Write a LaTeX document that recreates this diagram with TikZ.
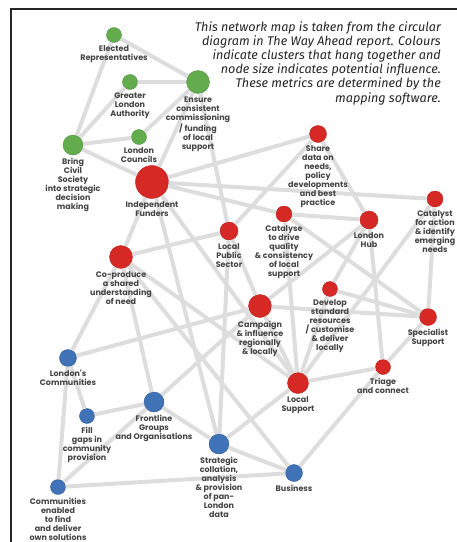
\documentclass[tikz,border=0pt]{standalone}
\usepackage{fontspec}
\newfontfamily\lblfont{Poppins}
\newfontfamily\notefont{Fira Sans}
\definecolor{cgreen}{RGB}{98,172,78}
\definecolor{cred}{RGB}{214,40,36}
\definecolor{cblue}{RGB}{64,114,184}
\definecolor{clink}{RGB}{221,221,221}
\definecolor{ctext}{RGB}{68,68,68}

\begin{document}
\begin{tikzpicture}
                \tikzset{x=1pt, y=-1pt}
                \tikzstyle{gnode}=[circle, inner sep=0pt, fill=cgreen, draw=cgreen!85!black, line width=0.4pt]
                \tikzstyle{rnode}=[circle, inner sep=0pt, fill=cred, draw=cred!85!black, line width=0.4pt]
                \tikzstyle{bnode}=[circle, inner sep=0pt, fill=cblue, draw=cblue!80!black, line width=0.4pt]
                \tikzstyle{lbl}=[anchor=north, inner sep=0pt, align=center, text=ctext, font=\lblfont\bfseries\fontsize{8}{9}\selectfont]
                \tikzstyle{note}=[anchor=north east, inner sep=0pt, align=right, text=black!85, font=\notefont\itshape\fontsize{12.6}{14.2}\selectfont]
                \tikzstyle{link}=[draw=clink, line width=4pt]

                \fill[white] (0,0) rectangle (457,542);
                \useasboundingbox (0,0) rectangle (457,542);
                \draw[line width=1.4pt, black!85] (457,9) -- (11,9) -- (11,542);

                \draw (441, 21)     node[note]                          (note)       {This network map is taken from the circular\\diagram in The Way Ahead report. Colours\\indicate clusters that hang together and\\node size indicates potential influence.\\These metrics are determined by the\\mapping software.};

                \draw (114, 35)     node[gnode, minimum size=15pt]      (elected)    {};
                \draw (130, 82)     node[gnode, minimum size=15pt]      (gla)        {};
                \draw (198, 82)     node[gnode, minimum size=23pt]      (ensure)     {};
                \draw (139, 137)    node[gnode, minimum size=15pt]      (councils)   {};
                \draw (73, 145)     node[gnode, minimum size=20pt]      (civil)      {};

                \draw (152, 182)    node[rnode, minimum size=33pt]      (funders)    {};
                \draw (318, 134)    node[rnode, minimum size=17pt]      (share)      {};
                \draw (435, 199)    node[rnode, minimum size=16pt]      (catalyst)   {};
                \draw (229, 231)    node[rnode, minimum size=18pt]      (lps)        {};
                \draw (284, 214)    node[rnode, minimum size=16pt]      (catalyse)   {};
                \draw (369, 220)    node[rnode, minimum size=18pt]      (hub)        {};
                \draw (121, 257)    node[rnode, minimum size=23pt]      (coproduce)  {};
                \draw (330, 289)    node[rnode, minimum size=15pt]      (develop)    {};
                \draw (260, 306)    node[rnode, minimum size=23pt]      (campaign)   {};
                \draw (428, 317)    node[rnode, minimum size=17pt]      (specialist) {};
                \draw (383, 367)    node[rnode, minimum size=15pt]      (triage)     {};
                \draw (298, 383)    node[rnode, minimum size=21pt]      (localsup)   {};

                \draw (68, 358)     node[bnode, minimum size=17pt]      (londons)    {};
                \draw (87, 416)     node[bnode, minimum size=15pt]      (fill)       {};
                \draw (154, 402)    node[bnode, minimum size=20pt]      (frontline)  {};
                \draw (219, 444)    node[bnode, minimum size=20pt]      (strategic)  {};
                \draw (294, 473)    node[bnode, minimum size=17pt]      (business)   {};
                \draw (58, 487)     node[bnode, minimum size=15pt]      (enabled)    {};

                \draw [link]        (elected) -- (ensure);
                \draw [link]        (elected) -- (civil);
                \draw [link]        (gla) -- (ensure);
                \draw [link]        (gla) -- (civil);
                \draw [link]        (councils) -- (civil);
                \draw [link]        (councils) -- (ensure);
                \draw [link]        (civil) -- (funders);
                \draw [link]        (ensure) -- (funders);
                \draw [link]        (ensure) -- (lps);
                \draw [link]        (funders) -- (share);
                \draw [link]        (funders) -- (catalyst);
                \draw [link]        (funders) -- (catalyse);
                \draw [link]        (funders) -- (coproduce);
                \draw [link]        (funders) -- (strategic);
                \draw [link]        (funders) -- (localsup);
                \draw [link]        (share) -- (lps);
                \draw [link]        (share) -- (hub);
                \draw [link]        (lps) -- (coproduce);
                \draw [link]        (lps) -- (strategic);
                \draw [link]        (lps) -- (campaign);
                \draw [link]        (catalyse) -- (hub);
                \draw [link]        (catalyse) -- (specialist);
                \draw [link]        (catalyse) -- (localsup);
                \draw [link]        (hub) -- (campaign);
                \draw [link]        (hub) -- (develop);
                \draw [link]        (hub) -- (triage);
                \draw [link]        (catalyst) -- (specialist);
                \draw [link]        (catalyst) -- (localsup);
                \draw [link]        (develop) -- (specialist);
                \draw [link]        (develop) -- (localsup);
                \draw [link]        (campaign) -- (specialist);
                \draw [link]        (campaign) -- (localsup);
                \draw [link]        (campaign) -- (londons);
                \draw [link]        (campaign) -- (frontline);
                \draw [link]        (specialist) -- (triage);
                \draw [link]        (localsup) -- (triage);
                \draw [link]        (localsup) -- (strategic);
                \draw [link]        (coproduce) -- (localsup);
                \draw [link]        (coproduce) -- (business);
                \draw [link]        (londons) -- (fill);
                \draw [link]        (londons) -- (enabled);
                \draw [link]        (londons) -- (coproduce);
                \draw [link]        (fill) -- (frontline);
                \draw [link]        (frontline) -- (enabled);
                \draw [link]        (frontline) -- (strategic);
                \draw [link]        (frontline) -- (coproduce);
                \draw [link]        (strategic) -- (business);
                \draw [link]        (enabled) -- (business);
                \draw [link]        (triage) -- (business);

                \draw (114, 45.5)   node[lbl]   (electedt)    {Elected\\Representatives};
                \draw (130, 92.5)   node[lbl]   (glat)        {Greater\\London\\Authority};
                \draw (198, 96.5)   node[lbl]   (ensuret)     {Ensure\\consistent\\commissioning\\/ funding\\of local\\support};
                \draw (139, 147.5)  node[lbl]   (councilst)   {London\\Councils};
                \draw (73, 158)     node[lbl]   (civilt)      {Bring\\Civil\\Society\\into strategic\\decision\\making};
                \draw (152, 201.5)  node[lbl]   (funderst)    {Independent\\Funders};
                \draw (318, 145.5)  node[lbl]   (sharet)      {Share\\data on\\needs,\\policy\\developments\\and best\\practice};
                \draw (435, 210)    node[lbl]   (catalystt)   {Catalyst\\for action\\\& identify\\emerging\\needs};
                \draw (229, 243)    node[lbl]   (lpst)        {Local\\Public\\Sector};
                \draw (284, 225)    node[lbl]   (catalyset)   {Catalyse\\to drive\\quality\\\& consistency\\of local\\support};
                \draw (369, 232)    node[lbl]   (hubt)        {London\\Hub};
                \draw (121, 271.5)  node[lbl]   (coproducet)  {Co-produce\\a shared\\understanding\\of need};
                \draw (330, 299.5)  node[lbl]   (developt)    {Develop\\standard\\resources\\/ customise\\\& deliver\\locally};
                \draw (260, 320.5)  node[lbl]   (campaignt)   {Campaign\\\& influence\\regionally\\\& locally};
                \draw (428, 328.5)  node[lbl]   (specialistt) {Specialist\\Support};
                \draw (383, 377.5)  node[lbl]   (triaget)     {Triage\\and connect};
                \draw (298, 396.5)  node[lbl]   (localsupt)   {Local\\Support};
                \draw (68, 369.5)   node[lbl]   (londonst)    {London's\\Communities};
                \draw (87, 426.5)   node[lbl]   (fillt)       {Fill\\gaps in\\community\\provision};
                \draw (154, 415)    node[lbl]   (frontlinet)  {Frontline\\Groups\\and Organisations};
                \draw (219, 457)    node[lbl]   (strategict)  {Strategic\\collation,\\analysis\\\& provision\\of pan-\\London\\data};
                \draw (294, 484.5)  node[lbl]   (businesst)   {Business};
                \draw (58, 497.5)   node[lbl]   (enabledt)    {Communities\\enabled\\to find\\and deliver\\own solutions};
\end{tikzpicture}
\end{document}
